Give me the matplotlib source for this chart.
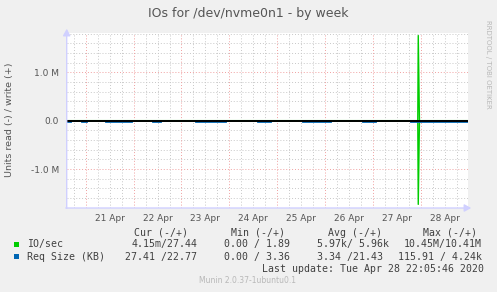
import matplotlib
matplotlib.use('Agg')
import matplotlib.pyplot as plt
from matplotlib.patches import Rectangle, FancyArrowPatch
import numpy as np

# Colors
bg = '#f0f0f0'
text_color = '#555555'
legend_color = '#404040'
faint = '#b8b8b8'
axis_blue = '#d0d0ff'
green = '#00cc00'
blue = '#0066b3'

W, H = 497, 292

# Data (x in days since 21 Apr 00:00)
io_t = [-0.40, 6.940, 6.950, 6.975, 7.99]
io_write = [27.0, 27.0, 1.76e6, 27.0, 27.0]
io_read = [-4.0, -4.0, -1.73e6, -4.0, -4.0]

req_t = [-0.40, -0.33, -0.27, -0.09, 0.00, 0.29, 0.42, 0.95, 1.10, 1.40,
         1.55, 2.05, 2.30, 2.90, 3.05, 3.60, 3.85, 4.40, 4.55, 5.10,
         5.35, 5.80, 6.05, 6.60, 6.80, 7.99]
req_read = [-27.0, -27.0, np.nan, -27.0, -27.0, np.nan, -27.0, -27.0, np.nan, -27.0,
            -27.0, np.nan, -27.0, -27.0, np.nan, -27.0, -27.0, np.nan, -27.0, -27.0,
            np.nan, -27.0, -27.0, np.nan, -27.0, -27.0]

day_labels = ['21 Apr', '22 Apr', '23 Apr', '24 Apr', '25 Apr', '26 Apr', '27 Apr', '28 Apr']
y_ticks = [-1.0e6, 0.0, 1.0e6]
y_ticklabels = ['-1.0 M', '0.0', '1.0 M']

legend_rows = [
    ('IO/sec', green, ['4.15m/27.44', '0.00 / 1.89', '5.97k/ 5.96k', '10.45M/10.41M']),
    ('Req Size (KB)', blue, ['27.41 /22.77', '0.00 / 3.36', '3.34 /21.43', '115.91 / 4.24k']),
]
legend_headers = ['Cur (-/+)', 'Min (-/+)', 'Avg (-/+)', 'Max (-/+)']


def px(x, y):
    return x / W, 1 - y / H


fig = plt.figure(figsize=(W / 100, H / 100), dpi=100, facecolor=bg)
x0, x1, y0, y1 = 66.7, 468, 33, 208
ax = fig.add_axes([x0 / W, 1 - y1 / H, (x1 - x0) / W, (y1 - y0) / H])
ax.set_facecolor('white')
xmin, xmax = -0.40, 7.99
ymin, ymax = -1.805e6, 1.812e6
ax.set_xlim(xmin, xmax)
ax.set_ylim(ymin, ymax)

# grid
dotted = (0, (1, 2))
for h in np.arange(-1.8e6, 1.81e6, 0.2e6):
    if abs(round(h / 1e6, 1)) in (0.0, 1.0):
        continue
    ax.axhline(h, color='#c8c8c8', lw=0.7, ls=dotted, zorder=1)
for q in np.arange(-0.25, 8.0, 0.25):
    if abs(q - round(q)) < 1e-6:
        continue
    ax.axvline(q, color='#c8c8c8', lw=0.7, ls=dotted, zorder=1)
for d in range(8):
    ax.axvline(d, color='#f0a0a0', lw=0.7, ls=dotted, zorder=1)
for t in y_ticks:
    ax.axhline(t, color='#f0a0a0', lw=0.7, ls=dotted, zorder=1)

# series
ax.plot(io_t, io_write, color=green, lw=1.0, zorder=2)
ax.plot(io_t, io_read, color=green, lw=1.0, zorder=2)
ax.plot(req_t, req_read, color=blue, lw=2.0, zorder=3)
ax.axhline(0, color='black', lw=1.4, zorder=5)

for s in ax.spines.values():
    s.set_visible(False)

ax.set_yticks(y_ticks)
ax.set_yticklabels(y_ticklabels)
ax.set_xticks(np.arange(8) + 0.5)
ax.set_xticklabels(day_labels)
ax.tick_params(axis='both', length=0, labelsize=6.5, colors=text_color)
ax.tick_params(axis='y', pad=5.5)
ax.tick_params(axis='x', pad=4.5)

# axis lines with arrows
fig.add_artist(FancyArrowPatch(px(63, 208), px(474, 208), transform=fig.transFigure,
                               arrowstyle='-|>,head_length=4,head_width=2.2',
                               color=axis_blue, lw=1, mutation_scale=1))
fig.add_artist(FancyArrowPatch(px(66.7, 211), px(66.7, 26), transform=fig.transFigure,
                               arrowstyle='-|>,head_length=4,head_width=2.2',
                               color=axis_blue, lw=1, mutation_scale=1))

# texts
fig.text(*px(248, 14), 'IOs for /dev/nvme0n1 - by week', ha='center', va='center',
         fontsize=9, color=text_color)
fig.text(*px(10, 120), 'Units read (-) / write (+)', ha='center', va='center',
         rotation=90, fontsize=6.8, color=text_color)
fig.text(*px(488, 20), 'RRDTOOL / TOBI OETIKER', ha='center', va='top',
         rotation=270, fontsize=5, color=faint)

mono = 'DejaVu Sans Mono'
fs = 7.1
for hdr, xl in zip(legend_headers, [134, 231, 328, 423]):
    fig.text(*px(xl, 232.7), hdr, ha='left', va='center', fontsize=fs,
             family=mono, color=legend_color)
row_y = [244.3, 256.7]
row_x = [[132, 224, 317, 404], [125, 224, 317, 398]]
for (name, col, vals), yy, xs in zip(legend_rows, row_y, row_x):
    fig.add_artist(Rectangle(px(14, yy + 2.6), 5.3 / W, 5.3 / H,
                             transform=fig.transFigure, color=col, lw=0))
    fig.text(*px(26.7, yy), name, ha='left', va='center', fontsize=fs,
             family=mono, color=legend_color)
    for v, xl in zip(vals, xs):
        fig.text(*px(xl, yy), v, ha='left', va='center', fontsize=fs,
                 family=mono, color=legend_color)
fig.text(*px(262, 268.7), 'Last update: Tue Apr 28 22:05:46 2020', ha='left',
         va='center', fontsize=fs, family=mono, color=legend_color)
fig.text(*px(247.5, 280.7), 'Munin 2.0.37-1ubuntu0.1', ha='center', va='center',
         fontsize=5.5, color=faint)

fig.savefig('out.png', dpi=100, facecolor=bg)
